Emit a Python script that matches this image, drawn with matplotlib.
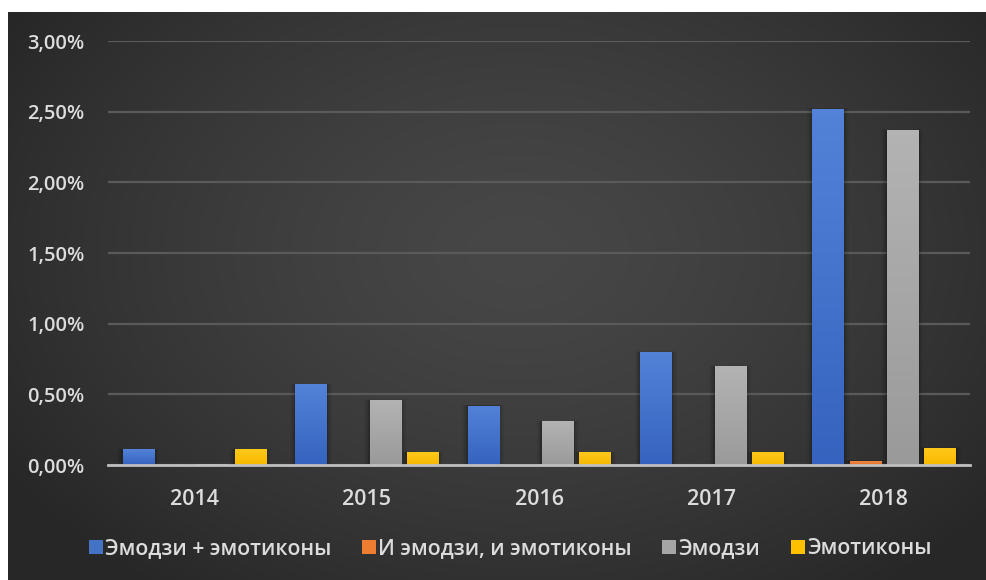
import numpy as np
import matplotlib
matplotlib.use("Agg")
import matplotlib.pyplot as plt
from matplotlib.ticker import FuncFormatter, FixedLocator
from matplotlib.lines import Line2D
from matplotlib.colors import LinearSegmentedColormap

plt.rcParams['font.family'] = ['Open Sans', 'DejaVu Sans']
plt.rcParams['font.weight'] = 'semibold'

# Share of messages by year, in percent
years = ["2014", "2015", "2016", "2017", "2018"]
series_names = ["Эмодзи + эмотиконы", "И эмодзи, и эмотиконы", "Эмодзи", "Эмотиконы"]
emoji_plus_emoticons = [0.11, 0.57, 0.42, 0.80, 2.52]
emoji_and_emoticons = [0.0, 0.003, 0.003, 0.003, 0.03]
emoji_only = [0.005, 0.46, 0.31, 0.70, 2.37]
emoticons_only = [0.11, 0.09, 0.09, 0.09, 0.12]
y_ticks = [0.0, 0.5, 1.0, 1.5, 2.0, 2.5, 3.0]

series = [emoji_plus_emoticons, emoji_and_emoticons, emoji_only, emoticons_only]
base_colors = ["#4472c4", "#ed7d31", "#a5a5a5", "#ffc000"]
top_colors = ["#5283d8", "#f48d4a", "#b3b3b3", "#ffc81a"]
bottom_colors = ["#3563bf", "#e07028", "#9a9a9a", "#f7b900"]

W, H = 986, 580
fig = plt.figure(figsize=(W / 100, H / 100), dpi=100, facecolor="white")

# Dark panel with a soft radial gradient
bg = fig.add_axes([8 / W, 0, (W - 8) / W, (H - 12) / H])
bg.set_axis_off()
ny, nx = 300, 500
yy, xx = np.mgrid[0:ny, 0:nx]
cx, cy = 0.52 * nx, 0.42 * ny
r = np.sqrt(((xx - cx) / (0.62 * nx)) ** 2 + ((yy - cy) / (0.75 * ny)) ** 2)
r = np.clip(r, 0, 1)
lum = (0x47 - (0x47 - 0x27) * r ** 1.4) / 255.0
img = np.dstack([lum, lum, lum])
bg.imshow(img, aspect="auto", extent=[0, 1, 0, 1], interpolation="bilinear")
bg.set_xlim(0, 1)
bg.set_ylim(0, 1)

ax = fig.add_axes([108 / W, 1 - 465 / H, (970 - 108) / W, (465 - 41) / H])
ax.set_facecolor("none")

x = np.arange(len(years))
step = 0.216
width = 0.18
offsets = [(-1.5 + i) * step for i in range(4)]

grad = np.linspace(0, 1, 64).reshape(-1, 1)
for vals, off, base, top, bot in zip(series, offsets, base_colors, top_colors, bottom_colors):
    bars = ax.bar(x + off, vals, width=width, color=base, zorder=3, linewidth=0)
    cmap = LinearSegmentedColormap.from_list("g", [bot, top])
    for b in bars:
        h = b.get_height()
        if h <= 0:
            continue
        x0 = b.get_x()
        # soft shadow
        for k, a in zip([0.010, 0.020, 0.032], [0.14, 0.09, 0.05]):
            ax.add_patch(plt.Rectangle((x0 - k, 0), width + 2 * k, h + k * 0.15,
                                       facecolor="black", alpha=a, linewidth=0, zorder=2))
        im = ax.imshow(grad, cmap=cmap, aspect="auto", origin="lower",
                       extent=[x0, x0 + width, 0, h], zorder=4)
        im.set_clip_path(b)

ax.set_xlim(-0.5, 4.5)
ax.set_ylim(0, 3.0)

ax.yaxis.set_major_locator(FixedLocator(y_ticks))
ax.yaxis.set_major_formatter(FuncFormatter(lambda v, p: f"{v:.2f}".replace(".", ",") + "%"))
ax.set_xticks(x)
ax.set_xticklabels(years)

ax.grid(axis="y", color="#5a5a5a", linewidth=1.6, zorder=1)
ax.set_axisbelow(True)
for s in ["left", "right", "top"]:
    ax.spines[s].set_visible(False)
ax.spines["bottom"].set_color("#bfbfbf")
ax.spines["bottom"].set_linewidth(2.0)
ax.spines["bottom"].set_zorder(5)

ax.tick_params(axis="both", length=0, colors="#dcdcdc")
ax.tick_params(axis="y", pad=17, labelsize=14.5)
ax.tick_params(axis="x", pad=17, labelsize=15.5)

handles = [Line2D([0], [0], marker="s", linestyle="none", markersize=10,
                  markerfacecolor=c, markeredgewidth=0) for c in base_colors]
leg = fig.legend(handles, series_names, loc="center", bbox_to_anchor=(0.516, 1 - 549 / H),
                 ncol=4, frameon=False, fontsize=15.3, handletextpad=0.0,
                 columnspacing=1.3, handlelength=0.9)
for t in leg.get_texts():
    t.set_color("#dcdcdc")

fig.savefig("out.png", dpi=100, facecolor="white")
